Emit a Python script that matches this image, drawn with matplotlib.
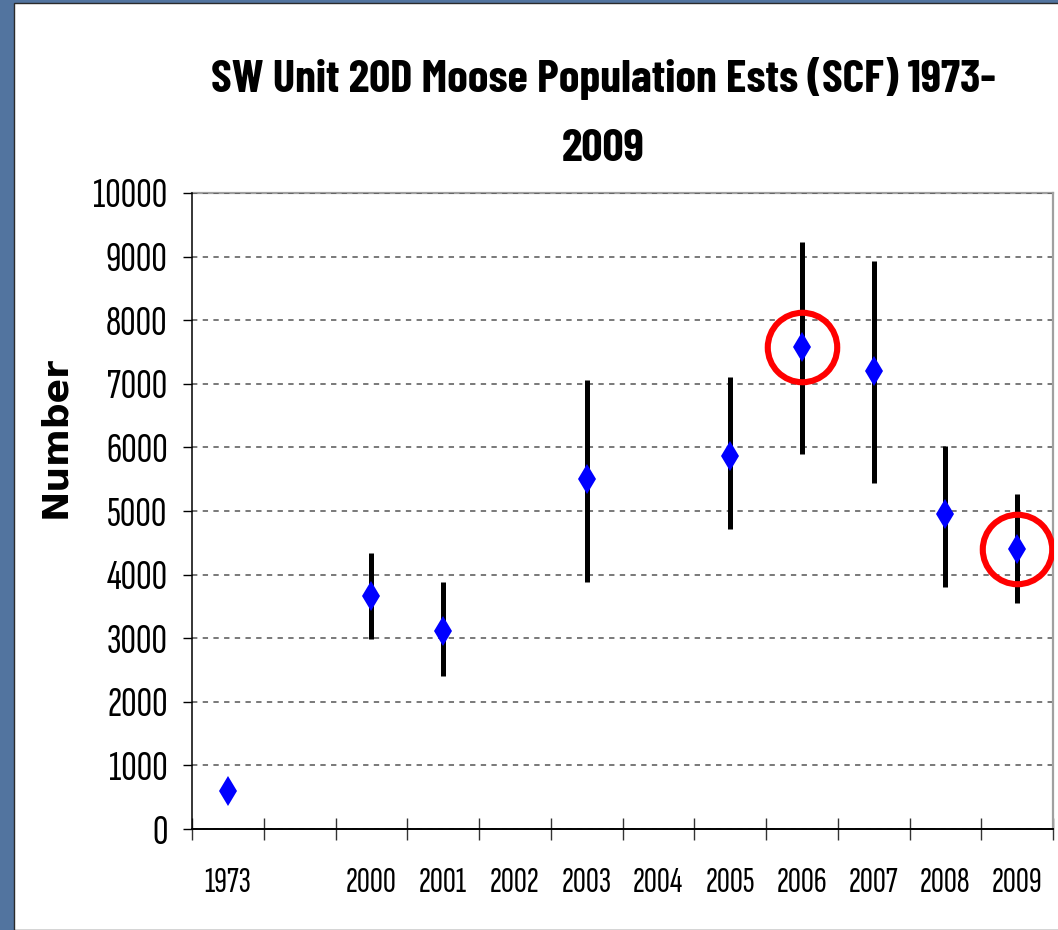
import matplotlib
matplotlib.use('Agg')
import matplotlib.pyplot as plt
from matplotlib import font_manager
from matplotlib.patches import Rectangle
import numpy as np


# slots on the category axis (1973, a gap, then 2000-2009)
slot_labels = ['1973', '', '2000', '2001', '2002', '2003', '2004',
               '2005', '2006', '2007', '2008', '2009']

years = ['1973', '2000', '2001', '2003', '2005', '2006', '2007', '2008', '2009']
estimate = [600, 3660, 3120, 5500, 5870, 7580, 7205, 4955, 4400]
lower = [600, 2980, 2400, 3890, 4715, 5900, 5435, 3810, 3555]
upper = [600, 4345, 3890, 7060, 7100, 9235, 8930, 6015, 5265]

highlighted = ['2006', '2009']

y_ticks = list(range(0, 10001, 1000))

title_lines = ['SW Unit 20D Moose Population Ests (SCF) 1973-', '2009']
y_label = 'Number'


def pick_font(names):
    for name in names:
        try:
            font_manager.findfont(name, fallback_to_default=False)
            return name
        except Exception:
            pass
    return 'DejaVu Sans'


title_font = pick_font(['Barlow Condensed', 'Roboto Condensed', 'Liberation Sans'])
tick_font = pick_font(['Sofia Sans Extra Condensed', 'Barlow Condensed', 'Liberation Sans'])

W, H = 1058, 930
fig = plt.figure(figsize=(W / 100, H / 100), dpi=100)
fig.patch.set_facecolor('#52749f')

# white slide panel
panel = Rectangle((14 / W, 0), 1.0, 1 - 3 / H, transform=fig.transFigure,
                  facecolor='white', edgecolor='#2b2b2b', linewidth=1.0, zorder=-5)
fig.patches.append(panel)

ax = fig.add_axes([192 / W, 1 - 829 / H, (1053 - 192) / W, (829 - 193) / H])
ax.set_facecolor('white')

xpos = [slot_labels.index(y) for y in years]

ax.vlines(xpos, lower, upper, color='black', linewidth=3.6, zorder=2)
ax.plot(xpos, estimate, linestyle='none', marker='d', markersize=15,
        color='#0000ff', markeredgewidth=0, zorder=3)

hx = [slot_labels.index(y) for y in highlighted]
hy = [estimate[years.index(y)] for y in highlighted]
ax.plot(hx, hy, linestyle='none', marker='o', markersize=50,
        markerfacecolor='none', markeredgecolor='#ff0000', markeredgewidth=4.4,
        zorder=4)

ax.set_xlim(-0.5, len(slot_labels) - 0.5)
ax.set_ylim(0, 10000)

ax.set_yticks(y_ticks)
ax.set_yticklabels([str(v) for v in y_ticks], fontsize=31, family=tick_font)
ax.tick_params(axis='y', direction='out', length=6.5, width=1, color='black', pad=11)

ax.set_xticks(range(len(slot_labels)))
ax.set_xticklabels(slot_labels, fontsize=26, family=tick_font)
ax.set_xticks(np.arange(-0.5, len(slot_labels), 1.0), minor=True)
ax.tick_params(axis='x', which='major', length=0, pad=27)
ax.tick_params(axis='x', which='minor', direction='inout', length=16,
               width=1, color='#333333')

ax.set_axisbelow(True)
ax.yaxis.grid(True, color='#555555', linewidth=1.1, linestyle=(0, (3.5, 3.5)))

ax.spines['left'].set_color('black')
ax.spines['left'].set_linewidth(1.1)
ax.spines['bottom'].set_color('black')
ax.spines['bottom'].set_linewidth(1.4)
for side in ['top', 'right']:
    ax.spines[side].set_color('#a0a0a0')
    ax.spines[side].set_linewidth(1.6)
ax.spines['top'].set_zorder(0.4)

fig.text(603 / W, 1 - 92 / H, title_lines[0], ha='center', va='baseline',
         fontsize=33.5, fontweight='bold', family=title_font)
fig.text(603 / W, 1 - 161 / H, title_lines[1], ha='center', va='baseline',
         fontsize=33.5, fontweight='bold', family=title_font)
fig.text(55 / W, 1 - 437 / H, y_label, rotation=90, ha='center', va='center',
         fontsize=26, fontweight='bold', family='DejaVu Sans')

fig.savefig('out.png', dpi=100, facecolor=fig.get_facecolor())
